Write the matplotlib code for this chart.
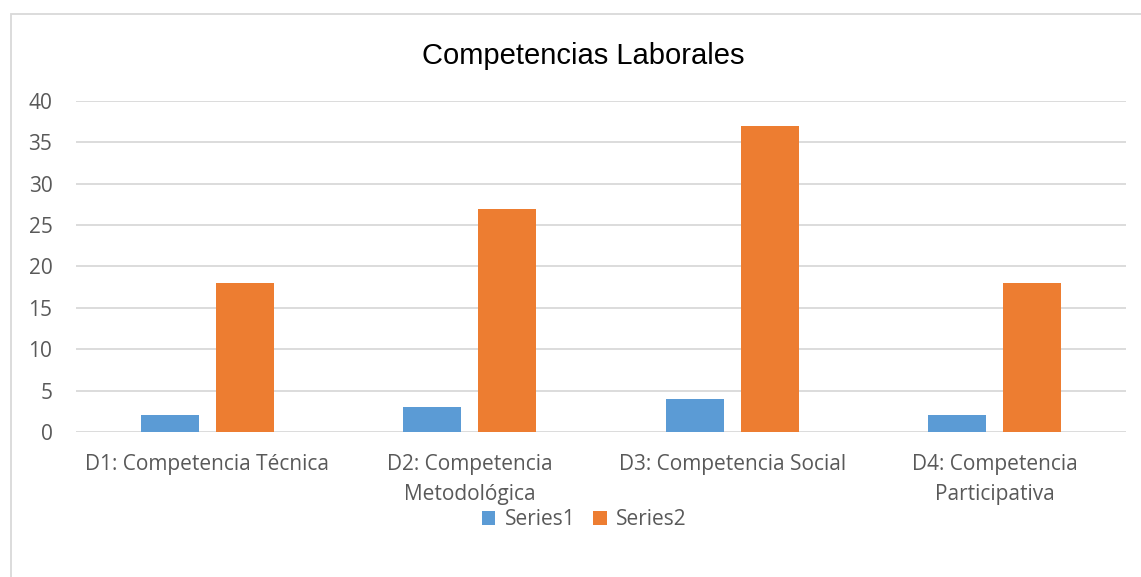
import numpy as np
import matplotlib.pyplot as plt
from matplotlib.patches import Rectangle

categories = ["D1: Competencia Técnica", "D2: Competencia\nMetodológica",
              "D3: Competencia Social", "D4: Competencia\nParticipativa"]
series1 = [2, 3, 4, 2]
series2 = [18, 27, 37, 18]
yticks = [0, 5, 10, 15, 20, 25, 30, 35, 40]

blue = "#5B9BD5"
orange = "#ED7D31"
grey = "#595959"
font = ["Open Sans", "DejaVu Sans"]

fig = plt.figure(figsize=(11.41, 5.77), dpi=100)
ax = fig.add_axes([0.0666, 0.2513, 0.9203, 0.5737])

x = np.arange(len(categories))
w = 0.221
off = 0.143
ax.bar(x - off, series1, w, color=blue, label="Series1", zorder=3)
ax.bar(x + off, series2, w, color=orange, label="Series2", zorder=3)

ax.set_xlim(-0.5, len(categories) - 0.5)
ax.set_ylim(0, 40)
ax.set_yticks(yticks)
ax.set_xticks(x)
ax.set_xticklabels(categories, fontfamily=font, fontsize=15, color=grey,
                   linespacing=1.55)
for lab in ax.get_yticklabels():
    lab.set_fontfamily(font)
    lab.set_fontsize(15)
    lab.set_color(grey)
ax.tick_params(axis="both", length=0)
ax.tick_params(axis="y", pad=17)
ax.tick_params(axis="x", pad=16)
ax.grid(axis="y", color="#D9D9D9", linewidth=1.3, zorder=0)
for s in ax.spines.values():
    s.set_visible(False)

fig.text(0.511, 0.903, "Competencias Laborales", ha="center", va="center",
         fontsize=21, fontfamily=["Liberation Sans"], color="#000000")

fig.legend(loc="center", bbox_to_anchor=(0.512, 0.099), ncol=2, frameon=False,
           prop={"family": font, "size": 15}, handlelength=0.65, handleheight=0.65,
           handletextpad=0.45, columnspacing=0.85, labelcolor=grey)

fig.patches.append(Rectangle((11 / 1141, -0.1), 1.2, 1 - 14 / 577 + 0.1,
                             transform=fig.transFigure, fill=False,
                             edgecolor="#D9D9D9", linewidth=1.3))

fig.savefig("out.png", dpi=100)
